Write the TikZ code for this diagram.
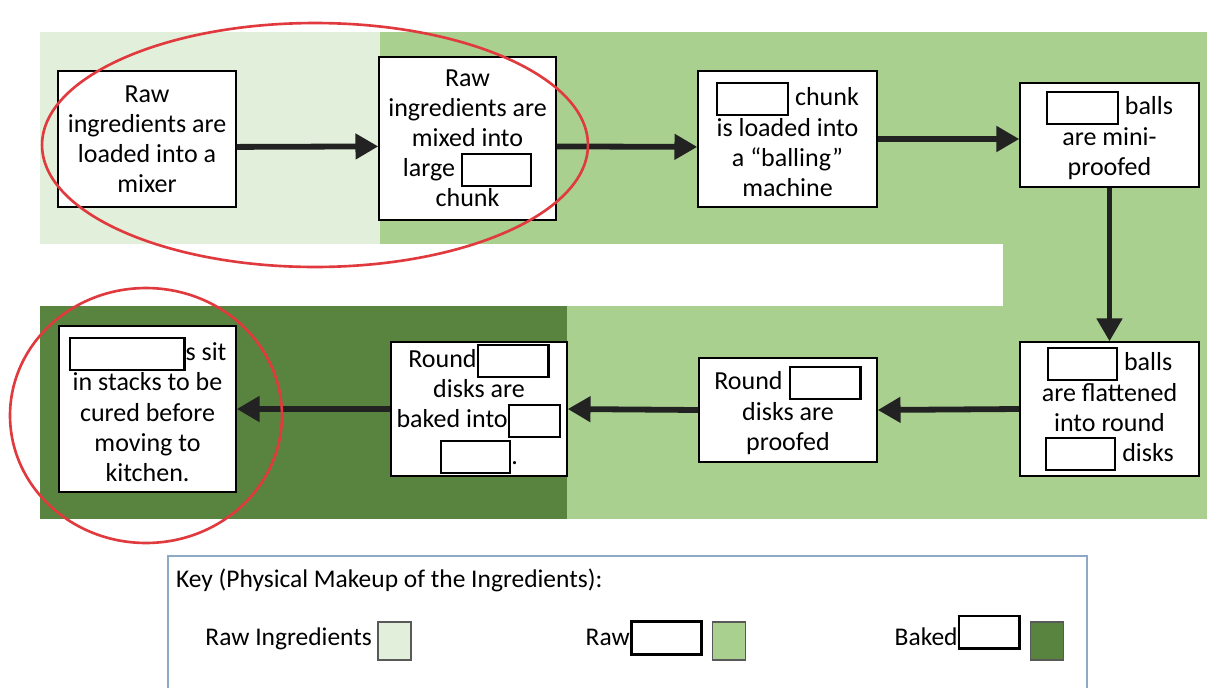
\documentclass[tikz,border=0pt]{standalone}
\usepackage{fontspec}
\setmainfont{Carlito}
\usetikzlibrary{arrows.meta,positioning,calc}
\definecolor{rawlight}{HTML}{E2EFDA}
\definecolor{rawmid}{HTML}{A9D08E}
\definecolor{bakeddark}{HTML}{58843F}
\definecolor{circlered}{HTML}{E03A3E}
\definecolor{keyframe}{HTML}{8EA9C6}
\definecolor{arrowgray}{HTML}{222222}

% empty answer box inside the text
\newcommand{\blank}[2][1.3pt]{{\setlength{\fboxsep}{0pt}\setlength{\fboxrule}{#1}\fbox{\rule[-4.5pt]{0pt}{17pt}\hspace{#2}}}}

\begin{document}
\begin{tikzpicture}[x=0.02cm,y=-0.02cm,
    stepbox/.style={draw=black, fill=white, line width=0.8pt, align=center,
        font=\fontsize{14.8}{17.1}\selectfont, inner sep=1pt},
    flow/.style={line width=3.3pt, draw=arrowgray, -{Triangle[length=13pt,width=14pt]}},
    ring/.style={draw=circlered, line width=1.5pt},
    keytext/.style={font=\fontsize{14.5}{17}\selectfont, inner sep=1pt},
    swatch/.style={draw=gray!70!black, line width=0.6pt, minimum width=0.66cm,
        minimum height=0.76cm, inner sep=0pt}]
    \useasboundingbox (0,0) rectangle (1207,687);

    % colour bands
    \fill[rawlight] (40,32) rectangle (380,244);
    \fill[rawmid] (380,32) rectangle (1207,244);
    \fill[rawmid] (1003,244) rectangle (1207,306);
    \fill[rawmid] (567,306) rectangle (1207,519);
    \fill[bakeddark] (40,306) rectangle (567,519);

    % top row
    \node[stepbox, minimum width=3.56cm, minimum height=2.72cm] (b1) at (147,139)
        {Raw\\ingredients are\\loaded into a\\mixer};
    \node[stepbox, minimum width=3.54cm, minimum height=3.26cm] (b2) at (467.5,138.5)
        {Raw\\ingredients are\\mixed into\\large \blank{38pt}\\chunk};
    \node[stepbox, minimum width=3.58cm, minimum height=2.72cm] (b3) at (787.5,139)
        {\blank{39pt} chunk\\is loaded into\\a “balling”\\machine};
    \node[stepbox, minimum width=3.58cm, minimum height=2.08cm] (b4) at (1109.5,135)
        {\blank{39pt} balls\\are mini-\\proofed};

    % bottom row
    \node[stepbox, minimum width=3.58cm, minimum height=2.68cm] (b5) at (1109.5,409)
        {\blank{38pt} balls\\are flattened\\into round\\\blank{38pt} disks};
    \node[stepbox, minimum width=3.56cm, minimum height=2.08cm] (b6) at (788,410)
        {Round \blank{39pt}\\disks are\\proofed};
    \node[stepbox, minimum width=3.52cm, minimum height=2.68cm] (b7) at (479,409)
        {Round\blank{39pt}\\disks are\\baked into\blank{28pt}\\\blank{38pt}.};
    \node[stepbox, minimum width=3.54cm, minimum height=3.32cm] (b8) at (147.5,409)
        {\blank{64pt}s sit\\in stacks to be\\cured before\\moving to\\kitchen.};

    % arrows
    \draw[flow] ([yshift=-4.5pt]b1.east) -- ([yshift=-4.5pt]b2.west);
    \draw[flow] ([yshift=-4.5pt]b2.east) -- ([yshift=-4.5pt]b3.west);
    \draw[flow] (b3.east) -- (b3.east -| b4.west);
    \draw[flow] (b4.south) -- (b5.north);
    \draw[flow] (b5.west) -- (b6.east);
    \draw[flow] (b6.west) -- (b7.east);
    \draw[flow] (b7.west) -- (b8.east);

    % key
    \draw[keyframe, line width=0.8pt] (168,700) -- (168,556) -- (1087,556) -- (1087,700);
    \node[keytext, anchor=west] (keytitle) at (174,580) {Key (Physical Makeup of the Ingredients):};
    \node[swatch, fill=rawlight] (swlight) at (394.5,641) {};
    \node[keytext, anchor=base east] (lblight) at ([xshift=-2pt,yshift=-2.5pt]swlight.west) {Raw Ingredients};
    \node[swatch, fill=rawmid] (swmid) at (729,641) {};
    \node[keytext, anchor=base east] (lbmid) at ([xshift=-4pt,yshift=-2.5pt]swmid.west) {Raw\blank[1.8pt]{38pt}};
    \node[swatch, fill=bakeddark] (swdark) at (1047,641) {};
    \node[keytext, anchor=base east] (lbdark) at ([xshift=-4pt,yshift=-2.5pt]swdark.west) {Baked\raisebox{3.5pt}{\blank[1.5pt]{33pt}}};

    % red rings
    \draw[ring] (315,145) ellipse [x radius=5.46cm, y radius=2.44cm];
    \draw[ring] (146,415.5) ellipse [x radius=2.72cm, y radius=2.55cm];
\end{tikzpicture}
\end{document}
